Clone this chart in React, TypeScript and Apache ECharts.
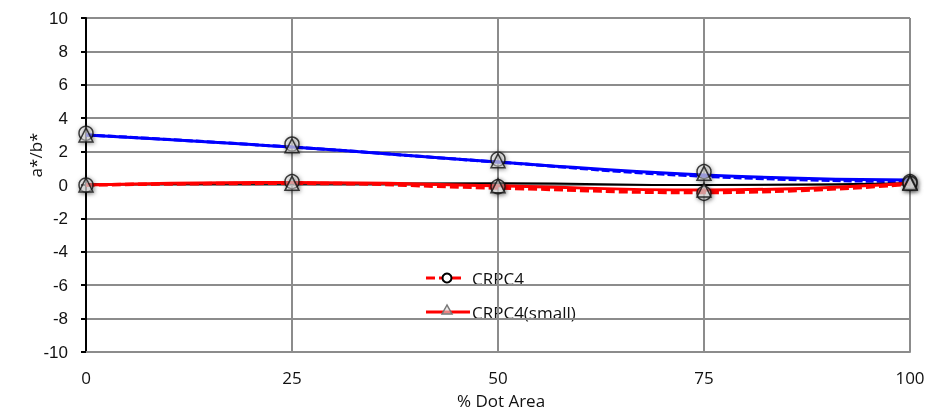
import React, { useEffect, useRef } from "react";
import * as echarts from "echarts";

const xValues = [0, 25, 50, 75, 100];
// fitted/plotted lines
const blueSolid = [3.0, 2.27, 1.38, 0.6, 0.3];
const blueDashed = [3.0, 2.27, 1.37, 0.52, 0.2];
const blackLine = [0.05, 0.08, 0.1, 0.0, 0.1];
const redSmallLine = [0.0, 0.15, -0.05, -0.3, 0.1];
const redDashedLine = [0.0, 0.1, -0.18, -0.45, 0.05];
// measured points
const crpc4B = [3.1, 2.45, 1.55, 0.8, 0.2];
const smallB = [3.0, 2.35, 1.45, 0.7, 0.15];
const crpc4A = [0.0, 0.2, -0.1, -0.5, 0.1];
const smallA = [0.0, 0.1, -0.05, -0.3, 0.1];

const xTicks = { min: 0, max: 100, interval: 25 };
const yTicks = { min: -10, max: 10, interval: 2 };

const pairs = (ys: number[]) => ys.map((y, i) => [xValues[i], y]);

const markerStyle = {
  color: "rgba(235,235,235,0.45)",
  borderColor: "#111",
  borderWidth: 1.5,
  shadowBlur: 4,
  shadowColor: "rgba(0,0,0,0.55)",
  shadowOffsetX: 1,
  shadowOffsetY: 1,
};

export default function App() {
  const ref = useRef<HTMLDivElement>(null);
  useEffect(() => {
    if (!ref.current) return;
    const chart = echarts.init(ref.current, null, { renderer: "svg" });
    const lineSeries = (data: number[], color: string, width: number, type: any, z: number) => ({
      type: "line",
      data: pairs(data),
      smooth: true,
      symbol: "none",
      lineStyle: { color, width, type },
      z,
      silent: true,
    });
    const markerSeries = (data: number[], symbol: string, size: number, z: number) => ({
      type: "scatter",
      data: pairs(data),
      symbol,
      symbolSize: size,
      itemStyle: markerStyle,
      z,
      silent: true,
    });
    chart.setOption({
      animation: false,
      grid: { left: 86, right: 38, top: 18, bottom: 58 },
      xAxis: {
        type: "value",
        ...xTicks,
        axisLine: { show: true, onZero: false, lineStyle: { color: "#8c8c8c", width: 2 } },
        axisTick: { show: false },
        axisLabel: { fontFamily: "Open Sans", fontSize: 17, color: "#111", margin: 17 },
        splitLine: { show: true, lineStyle: { color: "#8c8c8c", width: 2 } },
      },
      yAxis: {
        type: "value",
        ...yTicks,
        axisLine: { show: true, onZero: false, lineStyle: { color: "#000", width: 2 } },
        axisTick: { show: true, length: 5, lineStyle: { color: "#000", width: 2 } },
        axisLabel: { fontFamily: "Liberation Sans", fontSize: 17, color: "#111", margin: 18 },
        splitLine: { show: true, lineStyle: { color: "#8c8c8c", width: 2 } },
      },
      graphic: [
        {
          type: "text",
          x: 35,
          y: 155,
          rotation: Math.PI / 2,
          style: {
            text: "a*/b*",
            fontFamily: "Open Sans",
            fontSize: 17,
            fill: "#111",
            textAlign: "center",
            textVerticalAlign: "middle",
          },
        },
        {
          type: "text",
          x: 501,
          y: 400,
          style: {
            text: "% Dot Area",
            fontFamily: "Open Sans",
            fontSize: 17,
            fill: "#111",
            textAlign: "center",
            textVerticalAlign: "middle",
          },
        },
        {
          type: "group",
          z: 100,
          children: [
            { type: "rect", shape: { x: 381, y: 262, width: 222, height: 66 }, style: { fill: "#fff" } },
            {
              type: "line",
              shape: { x1: 426, y1: 278, x2: 462, y2: 278 },
              style: { stroke: "#ff0000", lineWidth: 3, lineDash: [9, 4] },
            },
            {
              type: "circle",
              shape: { cx: 447, cy: 278, r: 4.5 },
              style: { fill: "#fff", stroke: "#000", lineWidth: 2 },
            },
            {
              type: "text",
              x: 472,
              y: 278,
              style: { text: "CRPC4", fontFamily: "Open Sans", fontSize: 17, fill: "#111", textVerticalAlign: "middle" },
            },
            {
              type: "line",
              shape: { x1: 426, y1: 312, x2: 470, y2: 312 },
              style: { stroke: "#ff0000", lineWidth: 3 },
            },
            {
              type: "polygon",
              shape: { points: [[447, 305], [442, 314], [452, 314]] },
              style: { fill: "rgba(220,220,220,0.6)", stroke: "#777", lineWidth: 1.5 },
            },
            {
              type: "text",
              x: 472,
              y: 312,
              style: { text: "CRPC4(small)", fontFamily: "Open Sans", fontSize: 17, fill: "#111", textVerticalAlign: "middle" },
            },
          ],
        },
      ],
      series: [
        lineSeries(blueDashed, "#0000ff", 3, [8, 3], 2),
        lineSeries(blueSolid, "#0000ff", 3, "solid", 3),
        lineSeries(blackLine, "#000", 2, "solid", 2),
        lineSeries(redSmallLine, "#ff0000", 3, "solid", 4),
        lineSeries(redDashedLine, "#ff0000", 3.5, [9, 4], 5),
        markerSeries(crpc4B, "circle", 14, 10),
        markerSeries(smallB, "triangle", 14, 11),
        markerSeries(crpc4A, "circle", 14, 10),
        markerSeries(smallA, "triangle", 14, 11),
      ],
    });
    return () => chart.dispose();
  }, []);
  return <div ref={ref} style={{ position: "fixed", left: 0, top: 0, width: 948, height: 410 }} />;
}
